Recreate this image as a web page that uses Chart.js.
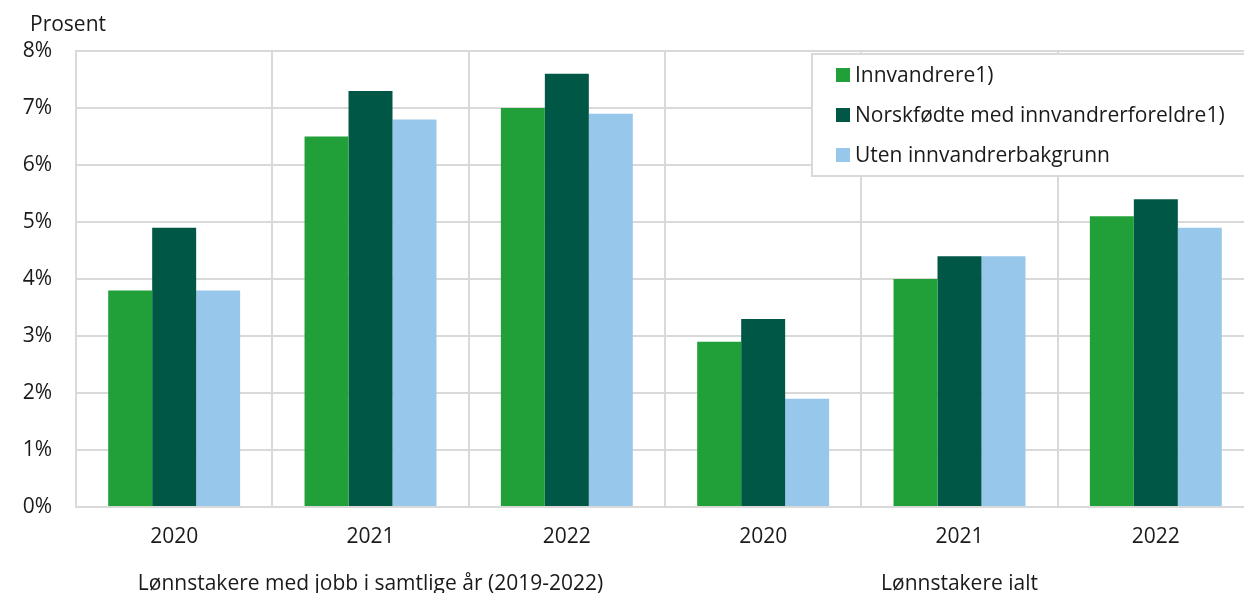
<!DOCTYPE html>
<html>
<head>
<meta charset="utf-8">
<script src="https://cdn.jsdelivr.net/npm/chart.js@4/dist/chart.umd.min.js"></script>
<style>
  html, body { margin: 0; padding: 0; background: #fff; overflow: hidden; }
  #wrap { position: relative; width: 1260px; height: 593px; }
</style>
</head>
<body>
<div id="wrap"><canvas id="chart"></canvas></div>
<script>
const years = ["2020", "2021", "2022", "2020", "2021", "2022"];
const groupLabels = ["Lønnstakere med jobb i samtlige år (2019-2022)", "Lønnstakere ialt"];
const innvandrere = [3.8, 6.5, 7.0, 2.9, 4.0, 5.1];
const norskfodte = [4.9, 7.3, 7.6, 3.3, 4.4, 5.4];
const uten = [3.8, 6.8, 6.9, 1.9, 4.4, 4.9];
const seriesNames = ["Innvandrere1)", "Norskfødte med innvandrerforeldre1)", "Uten innvandrerbakgrunn"];
const colours = ["#21a03a", "#005745", "#97c7eb"];
const yTicks = [0, 1, 2, 3, 4, 5, 6, 7, 8];

const FONT = "'Open Sans', sans-serif";
const SIZE = 21;
const TEXT = "#1a1a1a";
const GRID = "#d9d9d9";

// "Prosent" label and the boxed legend
const extras = {
  id: "extras",
  afterDraw(chart) {
    const ctx = chart.ctx;
    ctx.save();
    ctx.font = SIZE + "px " + FONT;
    ctx.fillStyle = TEXT;
    ctx.textBaseline = "middle";
    ctx.textAlign = "left";
    ctx.fillText("Prosent", 30, 25);

    const left = 812, top = 54, width = 460, height = 122;
    ctx.fillStyle = "#fff";
    ctx.fillRect(left, top, width, height);
    ctx.strokeStyle = GRID;
    ctx.lineWidth = 2;
    ctx.strokeRect(left, top, width, height);

    chart.data.datasets.forEach((ds, i) => {
      const y = top + 21 + i * 40;
      ctx.fillStyle = ds.backgroundColor;
      ctx.fillRect(836, y - 7, 14, 14);
      ctx.fillStyle = TEXT;
      ctx.fillText(ds.label, 855, y + 1);
    });
    ctx.restore();
  },
};

new Chart(document.getElementById("chart"), {
  type: "bar",
  data: {
    labels: years,
    datasets: [
      { label: seriesNames[0], data: innvandrere, backgroundColor: colours[0] },
      { label: seriesNames[1], data: norskfodte, backgroundColor: colours[1] },
      { label: seriesNames[2], data: uten, backgroundColor: colours[2] },
    ],
  },
  options: {
    responsive: true,
    maintainAspectRatio: false,
    animation: false,
    layout: { padding: { top: 51, right: 6, left: 22, bottom: 0 } },
    datasets: {
      bar: { barPercentage: 1, categoryPercentage: 0.672 },
    },
    plugins: {
      legend: { display: false },
      tooltip: { enabled: false },
    },
    scales: {
      x: {
        position: "bottom",
        grid: { color: GRID, lineWidth: 2, offset: true, drawTicks: false },
        border: { color: GRID, width: 2 },
        ticks: { color: TEXT, font: { family: FONT, size: SIZE }, padding: 17, maxRotation: 0 },
        afterFit: (s) => { s.height = 42; s.paddingLeft = 0; s.paddingRight = 0; },
      },
      groups: {
        type: "category",
        position: "bottom",
        labels: groupLabels,
        offset: true,
        grid: { display: false, drawTicks: false },
        border: { display: false },
        ticks: { color: TEXT, font: { family: FONT, size: SIZE }, padding: 22, maxRotation: 0, autoSkip: false },
        afterFit: (s) => { s.height = 44; s.paddingLeft = 0; s.paddingRight = 0; },
      },
      y: {
        min: 0,
        max: 8,
        afterBuildTicks: (scale) => {
          scale.ticks = yTicks.map((v) => ({ value: v }));
        },
        afterFit: (s) => { s.width = 54; },
        grid: { color: GRID, lineWidth: 2, drawTicks: false },
        border: { color: GRID, width: 2 },
        ticks: {
          color: TEXT,
          font: { family: FONT, size: SIZE },
          padding: 24,
          callback: (v) => v + "%",
        },
      },
    },
  },
  plugins: [extras],
});
</script>
</body>
</html>
